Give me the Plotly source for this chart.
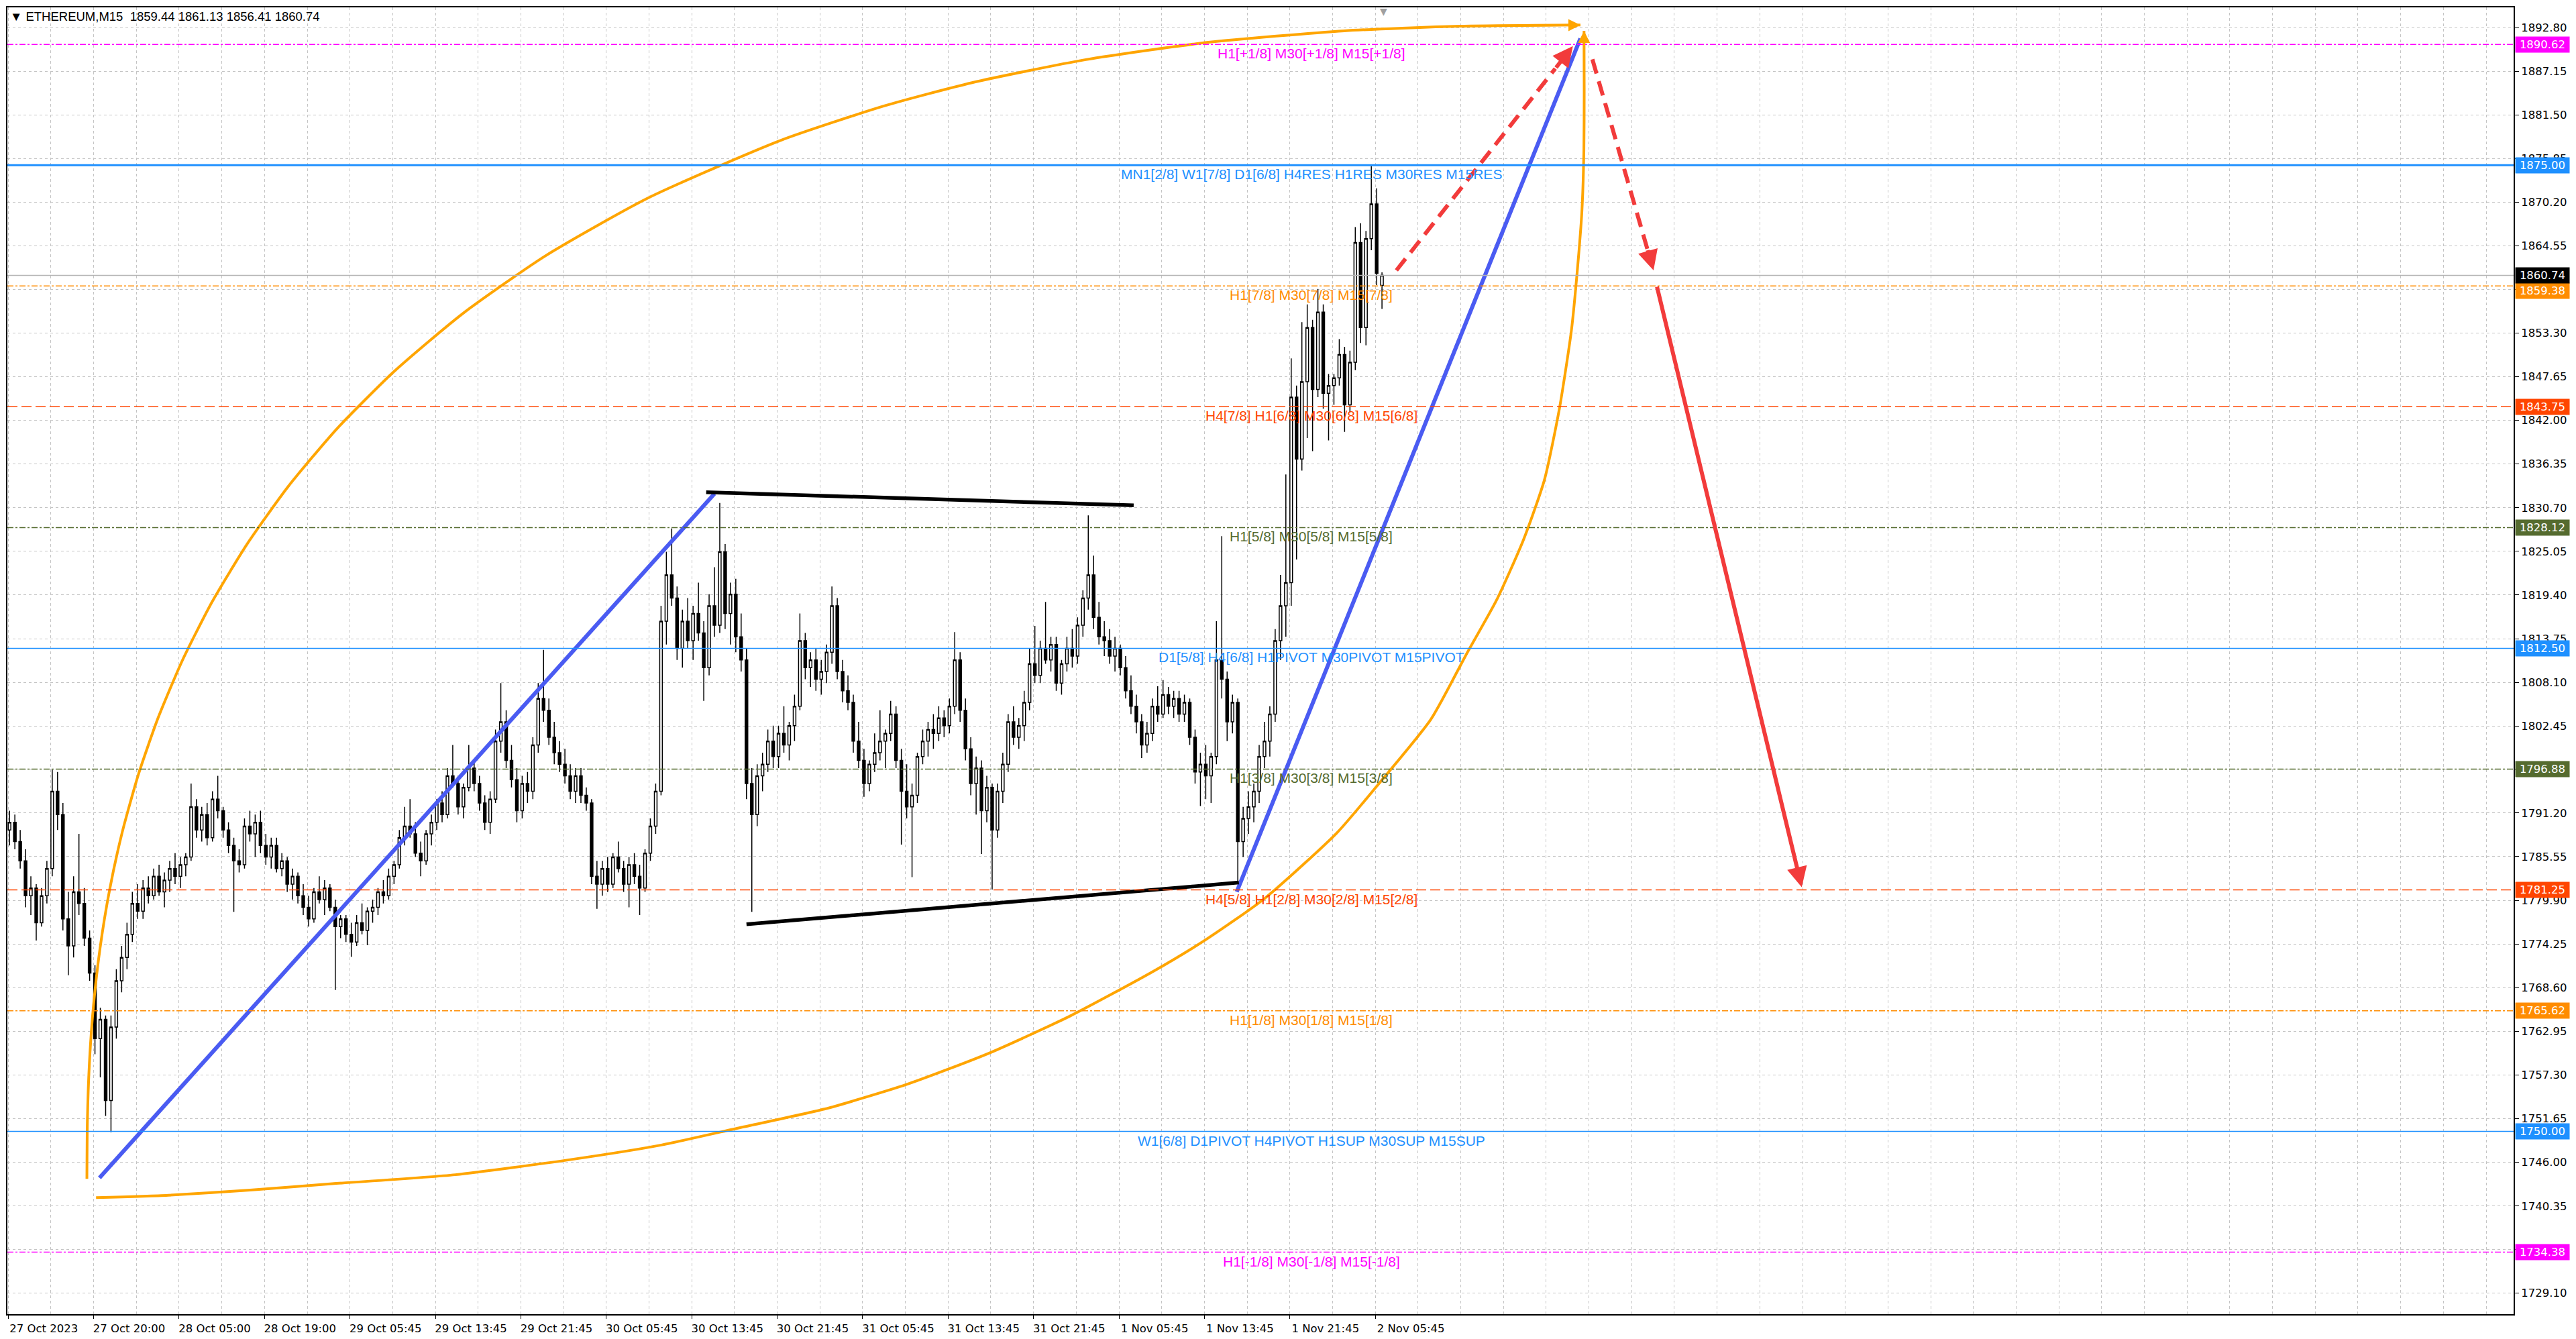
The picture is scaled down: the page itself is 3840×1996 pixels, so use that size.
import plotly.graph_objects as go

# ETHEREUM, M15 - candles, two M15 bars per candle
opens = [
    1789, 1790, 1787.5, 1785, 1780.5, 1781.5, 1777, 1780.5,
    1784, 1794, 1791, 1777.5, 1774, 1781, 1779.5, 1775,
    1770.5, 1762, 1764.5, 1754, 1763.5, 1769.5, 1772.5, 1775.5,
    1779.5, 1778.5, 1781.5, 1780.5, 1783, 1781, 1782.5, 1784,
    1783, 1784.5, 1785.5, 1792, 1789, 1791, 1788, 1793,
    1791.5, 1789, 1787, 1785, 1784.5, 1789.5, 1788.5, 1790,
    1787, 1785.5, 1787, 1784, 1785, 1782, 1783, 1780.5,
    1779, 1777.5, 1781, 1780, 1781.5, 1779, 1776.5, 1777.5,
    1775.5, 1774.5, 1777, 1776, 1778.5, 1779, 1781, 1780.5,
    1783, 1784.5, 1788, 1789.5, 1788.5, 1786, 1785, 1788.5,
    1790, 1792.5, 1791, 1796, 1795, 1792, 1794.5, 1797,
    1795, 1792.5, 1790, 1793, 1800.5, 1803, 1798, 1795.5,
    1791.5, 1795, 1794, 1800, 1806, 1804.5, 1801, 1799,
    1797.5, 1796, 1794, 1796, 1793.5, 1792.5, 1783, 1782,
    1784, 1782, 1785.5, 1784, 1782, 1784.5, 1783, 1781.5,
    1786, 1789.5, 1794, 1816, 1822, 1819, 1812.5, 1816,
    1813.5, 1817, 1814.5, 1810, 1818, 1815.5, 1825, 1817,
    1819.5, 1814, 1811, 1795, 1791, 1796, 1797.5, 1800.5,
    1798.5, 1801.5, 1800, 1802.5, 1805, 1813.5, 1810, 1811,
    1808.5, 1809.5, 1812, 1818, 1809.5, 1807, 1805.5, 1800.5,
    1798, 1795, 1797.5, 1799, 1800.5, 1801.5, 1804, 1798,
    1794, 1792, 1793.5, 1798.5, 1800.5, 1802, 1801.5, 1803.5,
    1802.5, 1805, 1811, 1804.5, 1799.5, 1795, 1797, 1791.5,
    1794.5, 1789, 1794, 1797.5, 1803, 1801, 1802.5, 1805.5,
    1810.5, 1809, 1812.5, 1811, 1813, 1808, 1810.5, 1812.5,
    1811.5, 1815.5, 1819, 1822, 1816.5, 1814, 1813.5, 1811.5,
    1812.5, 1810, 1807, 1805, 1803, 1800, 1801.5, 1805,
    1804, 1806.5, 1805, 1806, 1804, 1805.5, 1801, 1796.5,
    1797.5, 1796, 1798.5, 1811, 1808.5, 1803, 1805.5, 1787.5,
    1790.5, 1792, 1794, 1798.5, 1800.5, 1804, 1813.5, 1818,
    1821, 1845, 1837, 1847, 1854, 1846, 1856, 1845.5,
    1846.5, 1847.5, 1850.5, 1844, 1849.5, 1865, 1854, 1865.5,
    1870, 1859.44,
]
highs = [
    1791.5, 1791, 1789, 1786.5, 1783, 1782, 1781.5, 1785,
    1796.8, 1796.5, 1792.5, 1781, 1783, 1788.5, 1781.5, 1776,
    1771.5, 1766, 1765, 1765, 1771, 1774, 1777, 1781,
    1782, 1782.5, 1783, 1784, 1784.5, 1783.5, 1785, 1786,
    1785.5, 1786, 1795, 1793, 1792, 1792.5, 1794, 1796,
    1792, 1790, 1788, 1786.5, 1790.5, 1791.5, 1791, 1791.5,
    1788.5, 1788, 1788, 1786, 1785.5, 1784, 1783.5, 1782,
    1780.5, 1781.5, 1783, 1782.5, 1782, 1780, 1778, 1778,
    1777, 1778, 1779.5, 1779, 1780, 1781.5, 1782.5, 1784,
    1785, 1789, 1792, 1793, 1790, 1787.5, 1789, 1791,
    1793, 1794, 1797, 1800, 1796, 1795, 1800, 1798,
    1796, 1793.5, 1794, 1802, 1808, 1804.5, 1800, 1797,
    1796, 1796.5, 1801, 1808, 1812.3, 1806, 1803, 1800.5,
    1799.5, 1797.5, 1797, 1797, 1794.5, 1793, 1785, 1785,
    1785.5, 1786, 1787.5, 1785, 1785.5, 1786, 1784.5, 1786.5,
    1790.5, 1795, 1818, 1825, 1828, 1820.5, 1817.5, 1819,
    1818, 1821, 1816, 1819.5, 1823, 1831.3, 1826, 1821,
    1821.5, 1817, 1812.5, 1797, 1797.5, 1799, 1802, 1802.5,
    1802.5, 1805, 1803, 1806.5, 1817, 1814.5, 1812, 1812.5,
    1811, 1813, 1820.5, 1819, 1811, 1809, 1806.5, 1803,
    1799.5, 1798, 1801.5, 1804.5, 1802, 1805.7, 1805, 1799.5,
    1797.5, 1795, 1799, 1802, 1803, 1804, 1805, 1804.5,
    1806, 1814.6, 1812, 1806, 1801, 1798.5, 1798, 1796,
    1795, 1795, 1799, 1804, 1805, 1803.5, 1807, 1812.5,
    1815.4, 1813.5, 1818.5, 1814, 1814, 1811, 1814, 1815,
    1816.5, 1820, 1829.7, 1824.5, 1818.5, 1816, 1815, 1814,
    1813, 1811.5, 1809, 1806.5, 1804, 1803, 1806, 1807.6,
    1808.4, 1807.5, 1807, 1807, 1806.5, 1806, 1802, 1799,
    1800, 1799, 1816, 1827, 1809.5, 1806.5, 1806, 1792,
    1794, 1795, 1800, 1803, 1805, 1815, 1822, 1835,
    1850, 1846.5, 1854.7, 1857, 1855, 1859, 1857, 1848,
    1848, 1852.5, 1851.5, 1851, 1867, 1867.5, 1866.5, 1874.9,
    1872, 1861.13,
]
lows = [
    1787, 1786.5, 1784, 1779, 1778, 1774.7, 1776.5, 1779.5,
    1783, 1789, 1776, 1770.2, 1772.5, 1778, 1774, 1769.5,
    1760, 1757, 1752, 1749.9, 1762, 1768, 1771, 1774.5,
    1777.5, 1777.5, 1779.5, 1780, 1780.5, 1779, 1781, 1782,
    1781.5, 1783, 1785, 1788, 1787.5, 1787, 1787.5, 1790.5,
    1788, 1786, 1778.4, 1783.5, 1784, 1787.5, 1785.5, 1786,
    1784.5, 1784, 1783.5, 1783, 1781, 1780, 1779.5, 1778,
    1776.5, 1777, 1779.5, 1778, 1778.5, 1768.3, 1775, 1774.5,
    1772.6, 1774, 1775.5, 1774.1, 1777, 1778, 1779.5, 1780,
    1782, 1784, 1787, 1788, 1785.5, 1783, 1784.5, 1787,
    1789, 1790, 1790.5, 1794.5, 1791, 1790.5, 1794, 1794,
    1791.5, 1789, 1788.5, 1792.5, 1799, 1797, 1794.5, 1790,
    1790.5, 1792.5, 1793, 1799, 1803, 1800, 1797.5, 1796.5,
    1795, 1793, 1792.5, 1792.5, 1791.5, 1782, 1778.8, 1780.5,
    1781, 1781.5, 1783.5, 1781, 1779, 1782, 1778, 1781,
    1785, 1788.5, 1793.5, 1813, 1818, 1811, 1810, 1812.5,
    1811, 1813.5, 1805.7, 1809, 1814, 1814.5, 1815, 1813,
    1812, 1809.5, 1793, 1778.4, 1789.5, 1794, 1796.5, 1797,
    1797, 1799, 1798, 1800.5, 1804.5, 1808.5, 1807.5, 1807,
    1806.5, 1808, 1810.5, 1808.5, 1805.5, 1804.5, 1799, 1797,
    1793.3, 1794, 1796.5, 1798, 1797, 1800.5, 1797, 1787.1,
    1790.5, 1782.9, 1792.5, 1797.5, 1798.5, 1799.5, 1800.5, 1801,
    1801.5, 1804, 1803, 1798, 1793.5, 1791, 1785.9, 1790,
    1781.3, 1788, 1792.5, 1796.5, 1800, 1799.5, 1800.5, 1804.5,
    1808, 1808, 1810.5, 1809.5, 1807, 1806.5, 1809.5, 1810,
    1810.5, 1814, 1817.5, 1815, 1813, 1811.5, 1810.5, 1809.5,
    1809, 1806, 1804, 1801.5, 1798.3, 1799, 1800.5, 1803,
    1803.5, 1804, 1803.5, 1803, 1803, 1800, 1795, 1792.1,
    1793, 1792.5, 1797.5, 1806, 1800.5, 1801.5, 1782.1, 1785.5,
    1788.5, 1790, 1792.5, 1797, 1798.5, 1803, 1811, 1814,
    1818, 1824, 1835.5, 1839.7, 1838, 1845, 1843.5, 1839.4,
    1844, 1846.5, 1840.5, 1843, 1848.5, 1852, 1851.7, 1864,
    1859.5, 1856.41,
]
closes = [
    1790, 1787.5, 1785, 1780.5, 1781.5, 1777, 1780.5, 1784,
    1794, 1791, 1777.5, 1774, 1781, 1779.5, 1775, 1770.5,
    1762, 1764.5, 1754, 1763.5, 1769.5, 1772.5, 1775.5, 1779.5,
    1778.5, 1781.5, 1780.5, 1783, 1781, 1782.5, 1784, 1783,
    1784.5, 1785.5, 1792, 1789, 1791, 1788, 1793, 1791.5,
    1789, 1787, 1785, 1784.5, 1789.5, 1788.5, 1790, 1787,
    1785.5, 1787, 1784, 1785, 1782, 1783, 1780.5, 1779,
    1777.5, 1781, 1780, 1781.5, 1779, 1776.5, 1777.5, 1775.5,
    1774.5, 1777, 1776, 1778.5, 1779, 1781, 1780.5, 1783,
    1784.5, 1788, 1789.5, 1788.5, 1786, 1785, 1788.5, 1790,
    1792.5, 1791, 1796, 1795, 1792, 1794.5, 1797, 1795,
    1792.5, 1790, 1793, 1800.5, 1803, 1798, 1795.5, 1791.5,
    1795, 1794, 1800, 1806, 1804.5, 1801, 1799, 1797.5,
    1796, 1794, 1796, 1793.5, 1792.5, 1783, 1782, 1784,
    1782, 1785.5, 1784, 1782, 1784.5, 1783, 1781.5, 1786,
    1789.5, 1794, 1816, 1822, 1819, 1812.5, 1816, 1813.5,
    1817, 1814.5, 1810, 1818, 1815.5, 1825, 1817, 1819.5,
    1814, 1811, 1795, 1791, 1796, 1797.5, 1800.5, 1798.5,
    1801.5, 1800, 1802.5, 1805, 1813.5, 1810, 1811, 1808.5,
    1809.5, 1812, 1818, 1809.5, 1807, 1805.5, 1800.5, 1798,
    1795, 1797.5, 1799, 1800.5, 1801.5, 1804, 1798, 1794,
    1792, 1793.5, 1798.5, 1800.5, 1802, 1801.5, 1803.5, 1802.5,
    1805, 1811, 1804.5, 1799.5, 1795, 1797, 1791.5, 1794.5,
    1789, 1794, 1797.5, 1803, 1801, 1802.5, 1805.5, 1810.5,
    1809, 1812.5, 1811, 1813, 1808, 1810.5, 1812.5, 1811.5,
    1815.5, 1819, 1822, 1816.5, 1814, 1813.5, 1811.5, 1812.5,
    1810, 1807, 1805, 1803, 1800, 1801.5, 1805, 1804,
    1806.5, 1805, 1806, 1804, 1805.5, 1801, 1796.5, 1797.5,
    1796, 1798.5, 1811, 1808.5, 1803, 1805.5, 1787.5, 1790.5,
    1792, 1794, 1798.5, 1800.5, 1804, 1813.5, 1818, 1821,
    1845, 1837, 1847, 1854, 1846, 1856, 1845.5, 1846.5,
    1847.5, 1850.5, 1844, 1849.5, 1865, 1854, 1865.5, 1870,
    1861, 1860.74,
]

time_labels = ["27 Oct 2023", "27 Oct 20:00", "28 Oct 05:00", "28 Oct 19:00",
               "29 Oct 05:45", "29 Oct 13:45", "29 Oct 21:45", "30 Oct 05:45",
               "30 Oct 13:45", "30 Oct 21:45", "31 Oct 05:45", "31 Oct 13:45",
               "31 Oct 21:45", "1 Nov 05:45", "1 Nov 13:45", "1 Nov 21:45",
               "2 Nov 05:45"]

price_ticks = [1729.10, 1734.70, 1740.35, 1746.00, 1751.65, 1757.30, 1762.95,
               1768.60, 1774.25, 1779.90, 1785.55, 1791.20, 1796.85, 1802.45,
               1808.10, 1813.75, 1819.40, 1825.05, 1830.70, 1836.35, 1842.00,
               1847.65, 1853.30, 1858.90, 1864.55, 1870.20, 1875.85, 1881.50,
               1887.15, 1892.80]

# murrey math levels
levels = [1890.62, 1875.00, 1859.38, 1843.75, 1828.12, 1812.50,
          1796.88, 1781.25, 1765.62, 1750.00, 1734.38]
level_texts = ["H1[+1/8] M30[+1/8] M15[+1/8]",
               "MN1[2/8] W1[7/8] D1[6/8] H4RES H1RES M30RES M15RES",
               "H1[7/8] M30[7/8] M15[7/8]",
               "H4[7/8] H1[6/8] M30[6/8] M15[6/8]",
               "H1[5/8] M30[5/8] M15[5/8]",
               "D1[5/8] H4[6/8] H1PIVOT M30PIVOT M15PIVOT",
               "H1[3/8] M30[3/8] M15[3/8]",
               "H4[5/8] H1[2/8] M30[2/8] M15[2/8]",
               "H1[1/8] M30[1/8] M15[1/8]",
               "W1[6/8] D1PIVOT H4PIVOT H1SUP M30SUP M15SUP",
               "H1[-1/8] M30[-1/8] M15[-1/8]"]
last_price = 1860.74

# hand drawn objects (bar index, price)
trend1_x = [34.2, 264.5]
trend1_y = [1744.0, 1832.5]
trend2_x = [460.1, 588.8]
trend2_y = [1781.0, 1891.4]
range_top_x = [261.4, 421.5]
range_top_y = [1832.7, 1831.0]
range_bot_x = [276.5, 460.9]
range_bot_y = [1776.8, 1782.2]
arc_up_x = [29.48, 29.66, 30.41, 31.94, 34.41, 37.94, 42.66, 48.70, 56.22, 65.38,
            76.35, 89.42, 104.86, 123.07, 144.65, 170.27, 201.21, 239.58, 289.25,
            328.26, 360.99, 403.59, 449.42, 500.36, 543.53, 588.82]
arc_up_y = [1743.86, 1751.32, 1758.79, 1766.25, 1773.72, 1781.18, 1788.64,
            1796.11, 1803.57, 1811.04, 1818.50, 1825.96, 1833.43, 1840.89,
            1848.36, 1855.82, 1863.28, 1870.75, 1878.21, 1882.69, 1885.68,
            1888.66, 1890.90, 1892.39, 1892.99, 1893.14]
arc_lo_x = [32.92, 59.95, 90.66, 121.38, 167.44, 209.64, 244.23, 274.32, 305.65,
            336.36, 367.08, 397.79, 428.50, 448.46, 470.58, 497.60, 512.65,
            532.80, 546.25, 557.49, 567.51, 575.31, 580.96, 585.44, 587.65,
            589.37, 590.11, 590.23, 590.17]
arc_lo_y = [1741.43, 1741.74, 1742.42, 1743.23, 1744.40, 1746.31, 1748.22,
            1750.51, 1752.89, 1756.07, 1760.09, 1764.95, 1770.64, 1774.80,
            1780.15, 1788.62, 1794.71, 1803.31, 1811.83, 1818.79, 1826.56,
            1834.27, 1843.54, 1853.63, 1861.38, 1869.07, 1876.88, 1884.52,
            1892.38]
red1_x = [519.9, 586.0]
red1_y = [1861.4, 1890.4]
red2_x = [593.3, 616.2]
red2_y = [1888.7, 1861.4]
red3_x = [617.4, 671.7]
red3_y = [1859.4, 1781.6]

level_style = [("#FF00FF", "dashdot", 1.5), ("#1E90FF", "solid", 3),
               ("#FF8C00", "dashdot", 1.5), ("#FF4500", "15px,6px", 1.5),
               ("#556B2F", "dashdot", 1.5), ("#1E90FF", "solid", 1.5),
               ("#556B2F", "dashdot", 1.5), ("#FF4500", "15px,6px", 1.5),
               ("#FF8C00", "dashdot", 1.5), ("#1E90FF", "solid", 1.5),
               ("#FF00FF", "dashdot", 1.5)]

AX_FONT = dict(family="DejaVu Sans", size=16.5, color="black")
GRID = "#C4C4C4"
ORANGE = "#FFA500"
BLUE = "#4A5BF2"
RED = "#F23B3B"

fig = go.Figure()

cx = [2 * j + 0.5 for j in range(len(closes))]
fig.add_trace(go.Candlestick(
    x=cx, open=opens, high=highs, low=lows, close=closes,
    increasing=dict(fillcolor="white", line=dict(color="black", width=1.5)),
    decreasing=dict(fillcolor="black", line=dict(color="black", width=1.5)),
    whiskerwidth=0, showlegend=False, hoverinfo="skip"))

for xs, ys in [(arc_up_x, arc_up_y), (arc_lo_x, arc_lo_y)]:
    fig.add_trace(go.Scatter(x=xs, y=ys, mode="lines",
                             line=dict(color=ORANGE, width=4, shape="spline", smoothing=0.6),
                             showlegend=False, hoverinfo="skip"))
for xs, ys in [(trend1_x, trend1_y), (trend2_x, trend2_y)]:
    fig.add_trace(go.Scatter(x=xs, y=ys, mode="lines", line=dict(color=BLUE, width=6),
                             showlegend=False, hoverinfo="skip"))
for xs, ys in [(range_top_x, range_top_y), (range_bot_x, range_bot_y)]:
    fig.add_trace(go.Scatter(x=xs, y=ys, mode="lines", line=dict(color="black", width=5.5),
                             showlegend=False, hoverinfo="skip"))

# dashed red arrows: line body + head
for xs, ys in [(red1_x, red1_y), (red2_x, red2_y)]:
    bx = xs[0] + (xs[1] - xs[0]) * 0.9
    by = ys[0] + (ys[1] - ys[0]) * 0.9
    fig.add_trace(go.Scatter(x=[xs[0], bx], y=[ys[0], by], mode="lines",
                             line=dict(color=RED, width=6, dash="22px,12px"),
                             showlegend=False, hoverinfo="skip"))
    fig.add_annotation(x=xs[1], y=ys[1], ax=bx, ay=by, axref="x", ayref="y",
                       xref="x", yref="y", text="", showarrow=True,
                       arrowhead=2, arrowsize=1, arrowwidth=6, arrowcolor=RED)
fig.add_annotation(x=red3_x[1], y=red3_y[1], ax=red3_x[0], ay=red3_y[0],
                   axref="x", ayref="y", xref="x", yref="y", text="", showarrow=True,
                   arrowhead=2, arrowsize=1, arrowwidth=6, arrowcolor=RED)
# arc arrow heads at the apex
fig.add_annotation(x=arc_up_x[-1], y=arc_up_y[-1], ax=arc_up_x[-2], ay=arc_up_y[-2],
                   axref="x", ayref="y", text="", showarrow=True, arrowhead=2,
                   arrowsize=1.2, arrowwidth=3, arrowcolor=ORANGE)
fig.add_annotation(x=arc_lo_x[-1], y=arc_lo_y[-1], ax=arc_lo_x[-2], ay=arc_lo_y[-2],
                   axref="x", ayref="y", text="", showarrow=True, arrowhead=2,
                   arrowsize=1.2, arrowwidth=3, arrowcolor=ORANGE)

# level lines, labels and price tags
fig.add_hline(y=last_price, line=dict(color="#B4B4B4", width=1.5))
for lv, txt, (col, dash, w) in zip(levels, level_texts, level_style):
    fig.add_hline(y=lv, line=dict(color=col, width=w, dash=dash))
    fig.add_annotation(x=488, y=lv, xref="x", yref="y", text=txt, showarrow=False,
                       yanchor="top", xanchor="center",
                       font=dict(family="Liberation Sans", size=21, color=col))

tags = [(lv, s[0]) for lv, s in zip(levels, level_style)] + [(last_price, "black")]
for lv, col in tags:
    # the 7/8 tag sits just under the bid tag, nudged down like the terminal does
    shift = -7 if lv == levels[2] else 0
    fig.add_annotation(x=1, y=lv, xref="paper", yref="y", text=f"{lv:.2f}",
                       showarrow=False, xanchor="left", yanchor="middle", xshift=2,
                       yshift=shift, bgcolor=col, width=76, height=19, borderpad=2,
                       align="center",
                       font=dict(family="DejaVu Sans", size=16.5, color="white"))

fig.add_annotation(x=0, y=1, xref="paper", yref="paper", xanchor="left", yanchor="top",
                   xshift=2, yshift=-1, showarrow=False,
                   text="\u25BC ETHEREUM,M15 \u00a01859.44 1861.13 1856.41 1860.74",
                   font=dict(family="Liberation Sans Narrow, Liberation Sans", size=18.5,
                             color="black"))
fig.add_annotation(x=515, y=1, xref="x", yref="paper", yanchor="top", yshift=4,
                   showarrow=False, text="\u25BC",
                   font=dict(family="DejaVu Sans", size=14, color="#A0A0A0"))

fig.update_layout(
    width=3832, height=1988,
    margin=dict(l=1, r=93, t=1, b=37),
    paper_bgcolor="white", plot_bgcolor="white",
    hovermode=False,
    xaxis=dict(range=[-0.3, 938.3], tickmode="array",
               tickvals=[32 * k for k in range(len(time_labels))], ticktext=time_labels,
               ticks="outside", ticklen=5, tickcolor="black", tickfont=AX_FONT,
               ticklabelshift=53,
               showgrid=True, gridcolor=GRID, griddash="4px,4px", gridwidth=1,
               minor=dict(tickmode="linear", tick0=0, dtick=16, showgrid=True,
                          gridcolor=GRID, griddash="4px,4px", gridwidth=1, ticklen=0),
               showline=True, mirror=True, linecolor="black", linewidth=2,
               zeroline=False, rangeslider=dict(visible=False)),
    yaxis=dict(side="right", range=[1726.36, 1895.42], tickmode="array",
               tickvals=price_ticks, ticktext=[f"{v:.2f}" for v in price_ticks],
               ticks="outside", ticklen=6, tickcolor="black", tickfont=AX_FONT,
               showgrid=True, gridcolor=GRID, griddash="4px,4px", gridwidth=1,
               showline=True, mirror=True, linecolor="black", linewidth=2,
               zeroline=False),
)

fig.write_html("out.html", config={"displayModeBar": False})
